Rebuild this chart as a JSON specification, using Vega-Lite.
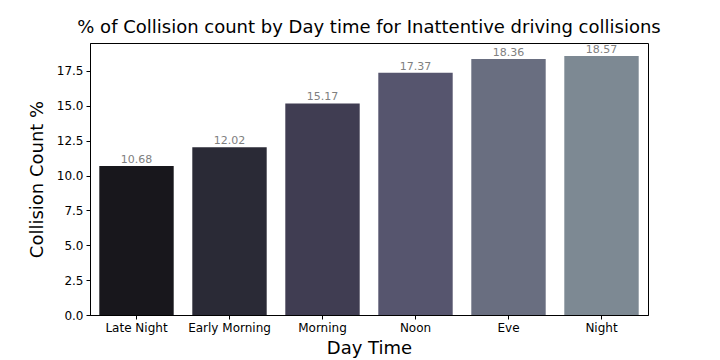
{
  "$schema": "https://vega.github.io/schema/vega-lite/v6.json",
  "width": 558,
  "height": 272,
  "autosize": {"type": "none"},
  "padding": {"left": 90, "top": 43, "right": 72, "bottom": 45},
  "background": "white",
  "title": {
    "text": "% of Collision count by Day time for Inattentive driving collisions",
    "font": "DejaVu Sans",
    "fontSize": 18,
    "fontWeight": "normal",
    "color": "black",
    "anchor": "middle",
    "offset": 6
  },
  "config": {
    "view": {"stroke": "black", "strokeWidth": 1},
    "axis": {
      "labelFont": "DejaVu Sans",
      "titleFont": "DejaVu Sans",
      "labelFontSize": 12,
      "labelColor": "black",
      "titleFontSize": 18,
      "titleFontWeight": "normal",
      "titleColor": "black",
      "domainColor": "black",
      "tickColor": "black",
      "tickSize": 4,
      "grid": false
    }
  },
  "data": {
    "values": [
      {"time": "Late Night", "pct": 10.68, "color": "#18171c"},
      {"time": "Early Morning", "pct": 12.02, "color": "#2a2a36"},
      {"time": "Morning", "pct": 15.17, "color": "#403d52"},
      {"time": "Noon", "pct": 17.37, "color": "#56556e"},
      {"time": "Eve", "pct": 18.36, "color": "#696e80"},
      {"time": "Night", "pct": 18.57, "color": "#7d8993"}
    ]
  },
  "encoding": {
    "x": {
      "field": "time",
      "type": "nominal",
      "sort": null,
      "title": "Day Time",
      "scale": {"paddingInner": 0.2, "paddingOuter": 0.1},
      "axis": {"labelAngle": 0, "titlePadding": 6, "labelPadding": 3}
    },
    "y": {
      "field": "pct",
      "type": "quantitative",
      "title": "Collision Count %",
      "scale": {"domain": [0, 19.5], "nice": false},
      "axis": {"values": [0, 2.5, 5, 7.5, 10, 12.5, 15, 17.5], "format": ".1f", "titlePadding": 10, "labelPadding": 3}
    }
  },
  "layer": [
    {
      "mark": {"type": "bar"},
      "encoding": {"color": {"field": "color", "type": "nominal", "scale": null}}
    },
    {
      "mark": {"type": "text", "dy": -6, "font": "DejaVu Sans", "fontSize": 11, "color": "#808080"},
      "encoding": {"text": {"field": "pct", "type": "quantitative", "format": ".2f"}}
    }
  ]
}
